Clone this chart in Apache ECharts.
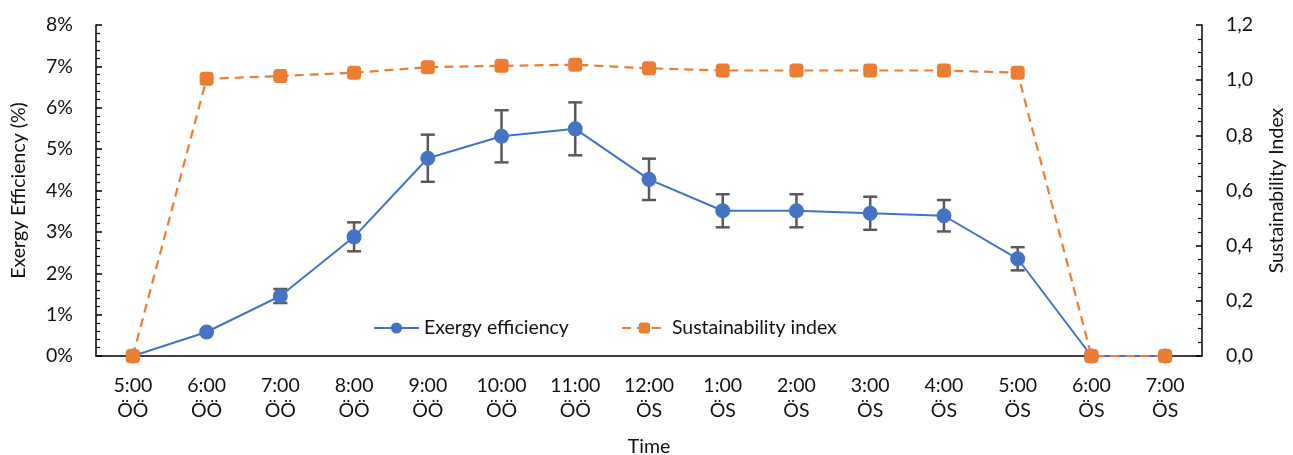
<!DOCTYPE html>
<html>
<head>
<meta charset="utf-8">
<script src="https://cdn.jsdelivr.net/npm/echarts@6/dist/echarts.min.js"></script>
<style>
  html, body { margin: 0; padding: 0; background: #fff; }
  #chart { width: 1293px; height: 455px; }
</style>
</head>
<body>
<div id="chart"></div>
<script>
// Hourly time labels (Turkish ÖÖ = AM, ÖS = PM)
const categories = [
  '5:00\nÖÖ', '6:00\nÖÖ', '7:00\nÖÖ', '8:00\nÖÖ', '9:00\nÖÖ', '10:00\nÖÖ', '11:00\nÖÖ',
  '12:00\nÖS', '1:00\nÖS', '2:00\nÖS', '3:00\nÖS', '4:00\nÖS', '5:00\nÖS', '6:00\nÖS', '7:00\nÖS'
];
// Exergy efficiency (%) and its error margin (±%)
const exergy = [0, 0.58, 1.45, 2.88, 4.78, 5.31, 5.49, 4.27, 3.51, 3.51, 3.45, 3.39, 2.35, 0, 0];
const exergyErr = [0, 0.05, 0.17, 0.35, 0.57, 0.63, 0.64, 0.50, 0.40, 0.40, 0.40, 0.38, 0.28, 0, 0];
// Sustainability index (dimensionless)
const sustainability = [0, 1.005, 1.015, 1.027, 1.047, 1.052, 1.056, 1.043, 1.035, 1.035, 1.035, 1.035, 1.027, 0, 0];
// Axis tick label sets
const leftTicks = [0, 1, 2, 3, 4, 5, 6, 7, 8];
const rightTicks = [0, 0.2, 0.4, 0.6, 0.8, 1.0, 1.2];

const FONT = 'Lato';
const FS = 19.5;
const TXT = '#111';

const errData = exergy.map((v, i) => [i, v - exergyErr[i], v + exergyErr[i]]);

const chart = echarts.init(document.getElementById('chart'), null, { renderer: 'canvas' });
chart.setOption({
  animation: false,
  textStyle: { fontFamily: FONT, color: TXT },
  grid: { left: 96, right: 91, top: 25, bottom: 99, containLabel: false, outerBoundsMode: 'none' },
  legend: {
    top: 313,
    left: 368,
    itemWidth: 45,
    itemHeight: 14,
    itemGap: 52,
    textStyle: { fontFamily: FONT, fontSize: FS, color: TXT },
    data: [
      { name: 'Exergy efficiency' },
      { name: 'Sustainability index' }
    ]
  },
  xAxis: {
    type: 'category',
    data: categories,
    boundaryGap: true,
    name: 'Time',
    nameLocation: 'middle',
    nameGap: 81,
    nameTextStyle: { fontFamily: FONT, fontSize: FS, color: TXT },
    axisLine: { lineStyle: { color: '#000', width: 1.5 } },
    axisTick: { inside: true, length: 6, lineStyle: { color: '#000', width: 1.5 } },
    axisLabel: { fontFamily: FONT, fontSize: FS, color: TXT, margin: 17, lineHeight: 25 },
    splitLine: { show: false }
  },
  yAxis: [
    {
      type: 'value',
      min: leftTicks[0],
      max: leftTicks[leftTicks.length - 1],
      interval: 1,
      name: 'Exergy Efficiency (%)',
      nameLocation: 'middle',
      nameGap: 67,
      nameTextStyle: { fontFamily: FONT, fontSize: FS, color: TXT },
      axisLine: { show: true, lineStyle: { color: '#000', width: 1.5 } },
      axisTick: { show: true, inside: true, length: 6, lineStyle: { color: '#000', width: 1.5 } },
      minorTick: { show: true, splitNumber: 5, length: 4, lineStyle: { color: '#000', width: 1.2 } },
      axisLabel: { fontFamily: FONT, fontSize: FS, color: TXT, margin: 23, formatter: v => v + '%' },
      splitLine: { show: false }
    },
    {
      type: 'value',
      min: rightTicks[0],
      max: rightTicks[rightTicks.length - 1],
      interval: 0.2,
      name: 'Sustainability Index',
      nameLocation: 'middle',
      nameGap: 65,
      nameRotate: 90,
      nameTextStyle: { fontFamily: FONT, fontSize: FS, color: TXT },
      axisLine: { show: true, lineStyle: { color: '#000', width: 1.5 } },
      axisTick: { show: true, inside: true, length: 6, lineStyle: { color: '#000', width: 1.5 } },
      minorTick: { show: true, splitNumber: 4, length: 4, lineStyle: { color: '#000', width: 1.2 } },
      axisLabel: { fontFamily: FONT, fontSize: FS, color: TXT, margin: 24,
        formatter: v => v.toFixed(1).replace('.', ',') },
      splitLine: { show: false }
    }
  ],
  series: [
    {
      name: 'Exergy error',
      type: 'custom',
      yAxisIndex: 0,
      data: errData,
      z: 3,
      silent: true,
      encode: { x: 0, y: [1, 2] },
      renderItem: (params, api) => {
        const x = api.value(0);
        if (api.value(2) - api.value(1) < 0.15) return null;
        const lo = api.coord([x, api.value(1)]);
        const hi = api.coord([x, api.value(2)]);
        const cap = 7;
        const style = { stroke: '#595959', lineWidth: 2.5 };
        return {
          type: 'group',
          children: [
            { type: 'line', shape: { x1: lo[0], y1: lo[1], x2: hi[0], y2: hi[1] }, style },
            { type: 'line', shape: { x1: lo[0] - cap, y1: lo[1], x2: lo[0] + cap, y2: lo[1] }, style },
            { type: 'line', shape: { x1: hi[0] - cap, y1: hi[1], x2: hi[0] + cap, y2: hi[1] }, style }
          ]
        };
      }
    },
    {
      name: 'Exergy efficiency',
      type: 'line',
      yAxisIndex: 0,
      data: exergy,
      z: 4,
      symbol: 'circle',
      symbolSize: 15,
      showAllSymbol: true,
      lineStyle: { color: '#4472C4', width: 2 },
      itemStyle: { color: '#4472C4' }
    },
    {
      name: 'Sustainability index',
      type: 'line',
      yAxisIndex: 1,
      data: sustainability,
      z: 5,
      symbol: 'roundRect',
      symbolSize: 14,
      showAllSymbol: true,
      lineStyle: { color: '#ED7D31', width: 2.2, type: [9, 6] },
      itemStyle: { color: '#ED7D31' }
    }
  ]
});
</script>
</body>
</html>
